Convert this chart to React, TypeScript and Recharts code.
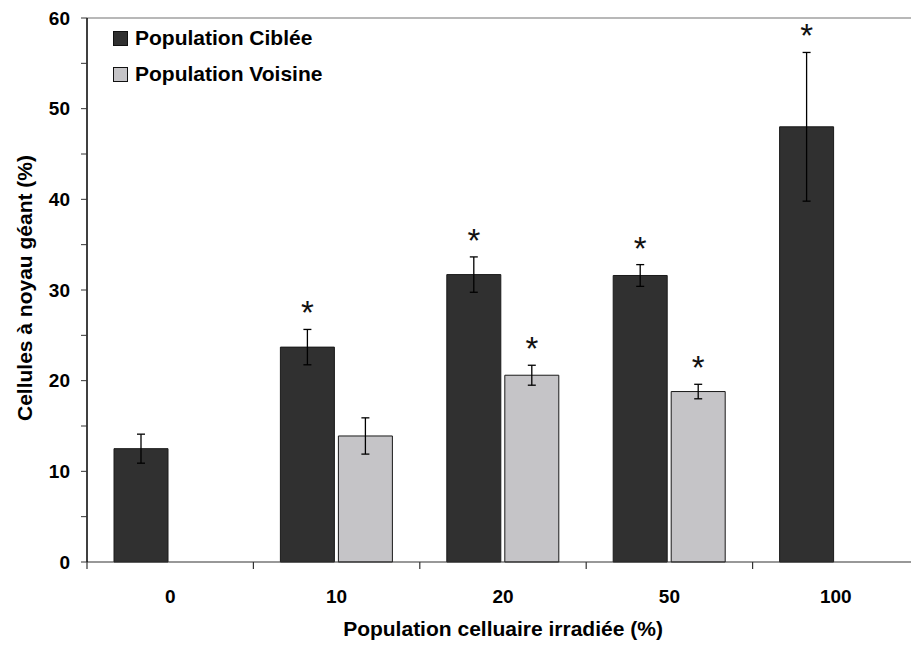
import { BarChart, Bar, XAxis, YAxis, ErrorBar, LabelList, ReferenceLine, Label } from 'recharts'

const categories = ['0', '10', '20', '50', '100']
const cibleeValues = [12.5, 23.7, 31.7, 31.6, 48.0]
const cibleeErrors = [1.6, 1.95, 1.95, 1.2, 8.2]
const cibleeSignif = [false, true, true, true, true]
const voisineValues = [null, 13.9, 20.6, 18.8, null]
const voisineErrors = [null, 2.0, 1.1, 0.8, null]
const voisineSignif = [false, false, true, true, false]
const yTicks = [0, 5, 10, 15, 20, 25, 30, 35, 40, 45, 50, 55, 60]
const seriesNames = ['Population Ciblée', 'Population Voisine']

const data = categories.map((cat, i) => ({
  cat,
  ciblee: cibleeValues[i],
  cibleeErr: cibleeErrors[i],
  voisine: voisineValues[i],
  voisineErr: voisineErrors[i],
}))

const FONT = '"Liberation Sans", Arial, sans-serif'
const DARK = '#303030'
const LIGHT = '#c5c4c7'

const CategoryTick = ({ x, y, payload }: any) => {
  const half = payload && payload.offset ? payload.offset : 83.2
  return (
    <g>
      <line x1={x - half} x2={x - half} y1={y} y2={y + 7} stroke="#333" strokeWidth={1.2} />
      <text x={x} y={y + 41} textAnchor="middle" fontFamily={FONT} fontWeight="bold" fontSize={19} fill="#000">
        {payload.value}
      </text>
    </g>
  )
}

// asterisk above the error bar of significant bars
const makeStar = (values: (number | null)[], errors: (number | null)[], signif: boolean[]) => (props: any) => {
  const { x, y, width, height, value } = props
  if (value == null) return null
  const i = values.indexOf(Number(value))
  if (i < 0 || !signif[i]) return null
  const err = errors[i] || 0
  const pxPerUnit = height / value
  const top = y - err * pxPerUnit
  const cx = x + width / 2
  return (
    <text x={cx} y={top - 5} textAnchor="middle" fontFamily={FONT} fontSize={33} fill="#111">
      *
    </text>
  )
}

function LegendBox() {
  const colors = [DARK, LIGHT]
  return (
    <div style={{ position: 'absolute', left: 113, top: 20, fontFamily: FONT, fontWeight: 'bold', fontSize: 21, color: '#000' }}>
      {seriesNames.map((name, i) => (
        <div key={name} style={{ display: 'flex', alignItems: 'center', height: 36 }}>
          <span
            style={{
              display: 'inline-block',
              width: 13,
              height: 13,
              background: colors[i],
              border: '1px solid #111',
              marginRight: 7,
            }}
          />
          <span>{name}</span>
        </div>
      ))}
    </div>
  )
}

export default function App() {
  return (
    <div style={{ position: 'absolute', left: 0, top: 0, width: 911, height: 650, overflow: 'hidden', background: '#fff' }}>
      <BarChart
        width={930}
        height={650}
        data={data}
        margin={{ top: 18, right: 11, left: 27, bottom: 0 }}
        barSize={54}
        barGap={4}
      >
        <ReferenceLine y={60} stroke="#a0a0a0" strokeWidth={1.5} />
        <XAxis
          dataKey="cat"
          height={88}
          axisLine={{ stroke: '#333', strokeWidth: 1.2 }}
          tickLine={false}
          tickSize={0}
          tickMargin={0}
          tick={<CategoryTick />}
          interval={0}
        >
          <Label
            content={(p: any) => {
              const vb = p.viewBox || { x: 87, width: 832 }
              return (
                <text x={vb.x + vb.width / 2} y={635.5} textAnchor="middle" fontFamily={FONT} fontWeight="bold" fontSize={21} fill="#000">
                  Population celluaire irradiée (%)
                </text>
              )
            }}
          />
        </XAxis>
        <YAxis
          width={60}
          domain={[0, 60]}
          ticks={yTicks}
          interval={0}
          tickFormatter={(v: number) => (v % 10 === 0 ? String(v) : '')}
          axisLine={{ stroke: '#000', strokeWidth: 1.5 }}
          tickLine={{ stroke: '#333' }}
          tickSize={6}
          tickMargin={11}
          tick={{ fontFamily: FONT, fontWeight: 'bold', fontSize: 19, fill: '#000' }}
        >
          <Label
            content={(p: any) => {
              const vb = p.viewBox || { x: 27, y: 18, height: 544 }
              const cx = 24
              const cy = vb.y + vb.height / 2 - 2
              return (
                <text
                  x={cx}
                  y={cy}
                  transform={`rotate(-90 ${cx} ${cy})`}
                  textAnchor="middle"
                  dominantBaseline="central"
                  fontFamily={FONT}
                  fontWeight="bold"
                  fontSize={21}
                  fill="#000"
                >
                  Cellules à noyau géant (%)
                </text>
              )
            }}
          />
        </YAxis>
        <Bar dataKey="ciblee" name={seriesNames[0]} fill={DARK} stroke="#1a1a1a" strokeWidth={1} isAnimationActive={false}>
          <ErrorBar dataKey="cibleeErr" width={4} stroke="#000" strokeWidth={1.3} direction="y" />
          <LabelList dataKey="ciblee" content={makeStar(cibleeValues, cibleeErrors, cibleeSignif)} />
        </Bar>
        <Bar dataKey="voisine" name={seriesNames[1]} fill={LIGHT} stroke="#1a1a1a" strokeWidth={1} isAnimationActive={false}>
          <ErrorBar dataKey="voisineErr" width={4} stroke="#000" strokeWidth={1.3} direction="y" />
          <LabelList dataKey="voisine" content={makeStar(voisineValues, voisineErrors, voisineSignif)} />
        </Bar>
      </BarChart>
      <LegendBox />
    </div>
  )
}
